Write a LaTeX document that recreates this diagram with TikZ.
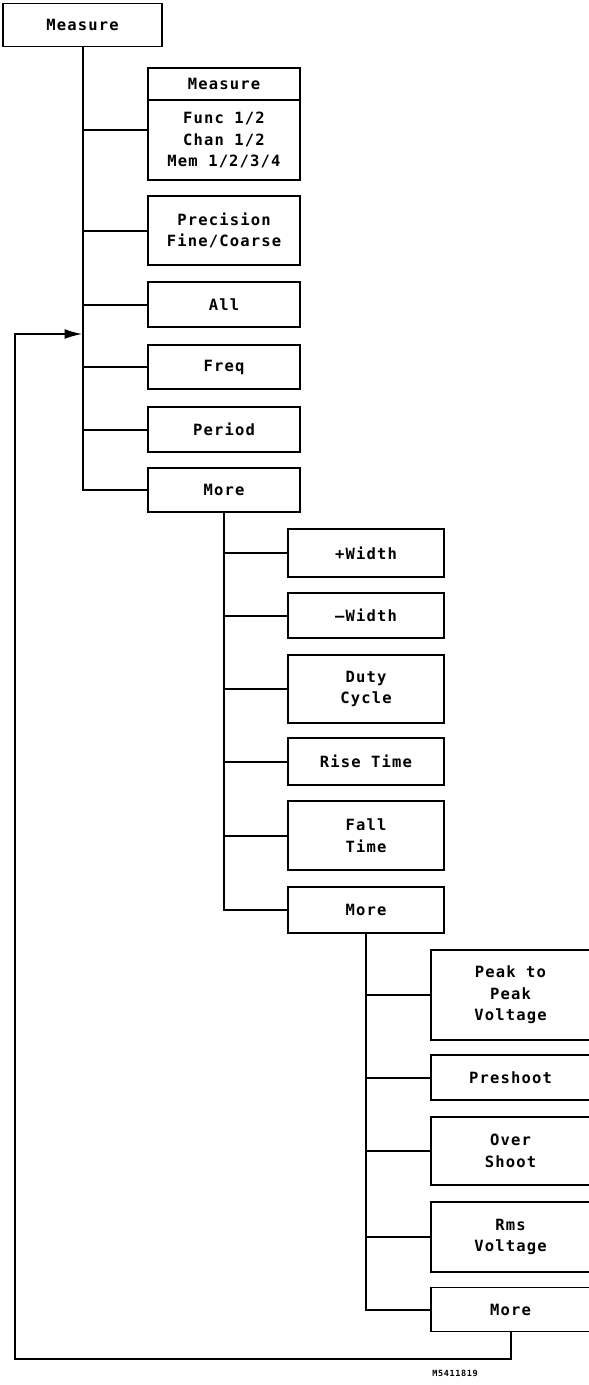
\documentclass[tikz,border=0pt]{standalone}
\usepackage{fontspec}
\newfontfamily\plotfont[LetterSpace=7.5]{DejaVu Sans Mono}
\usepackage{tikz}
\usetikzlibrary{arrows.meta, positioning}

\tikzset{
  menubox/.style={draw, line width=1.8pt, fill=white, align=center, inner sep=0pt,
    font=\plotfont\bfseries\fontsize{15.5}{21.5}\selectfont},
  link/.style={line width=2pt},
}

\begin{document}
\begin{tikzpicture}[x=1pt, y=-1pt]
    \useasboundingbox (0,0) rectangle (589,1385);

    % Top menu key
    \node[menubox, minimum width=159, minimum height=43] (top) at (82.5,25) {Measure};

    % First softkey level
    \node[menubox, minimum width=152, minimum height=32] (meashead) at (224,84) {Measure};
    \node[menubox, minimum width=152, minimum height=80] (measbody) at (224,140) {Func 1/2\\Chan 1/2\\Mem 1/2/3/4};
    \node[menubox, minimum width=152, minimum height=69] (prec) at (224,230.5) {Precision\\Fine/Coarse};
    \node[menubox, minimum width=152, minimum height=45] (all) at (224,304.5) {All};
    \node[menubox, minimum width=152, minimum height=44] (freq) at (224,367) {Freq};
    \node[menubox, minimum width=152, minimum height=45] (period) at (224,429.5) {Period};
    \node[menubox, minimum width=152, minimum height=44] (more1) at (224,490) {More};

    \draw[link] (top.south) |- (more1.west);
    \draw[link] (top.south |- 0,130) -- ([yshift=10pt]measbody.west);
    \draw[link] (top.south |- prec.west) -- (prec.west);
    \draw[link] (top.south |- all.west) -- (all.west);
    \draw[link] (top.south |- freq.west) -- (freq.west);
    \draw[link] (top.south |- period.west) -- (period.west);

    % Second softkey level
    \node[menubox, minimum width=156, minimum height=48] (pwidth) at (366,553) {+Width};
    \node[menubox, minimum width=156, minimum height=45] (nwidth) at (366,615.5) {–Width};
    \node[menubox, minimum width=156, minimum height=68] (duty) at (366,689) {Duty\\Cycle};
    \node[menubox, minimum width=156, minimum height=47] (rise) at (366,761.5) {Rise Time};
    \node[menubox, minimum width=156, minimum height=69] (fall) at (366,835.5) {Fall\\Time};
    \node[menubox, minimum width=156, minimum height=46] (more2) at (366,910) {More};

    \draw[link] (more1.south) |- (more2.west);
    \draw[link] (more1.south |- pwidth.west) -- (pwidth.west);
    \draw[link] (more1.south |- nwidth.west) -- (nwidth.west);
    \draw[link] (more1.south |- duty.west) -- (duty.west);
    \draw[link] (more1.south |- rise.west) -- (rise.west);
    \draw[link] (more1.south |- fall.west) -- (fall.west);

    % Third softkey level
    \node[menubox, minimum width=159, minimum height=90] (peak) at (510.5,995) {Peak to\\Peak\\Voltage};
    \node[menubox, minimum width=159, minimum height=45] (pre) at (510.5,1077.5) {Preshoot};
    \node[menubox, minimum width=159, minimum height=68] (over) at (510.5,1151) {Over\\Shoot};
    \node[menubox, minimum width=159, minimum height=70] (rms) at (510.5,1237) {Rms\\Voltage};
    \node[menubox, minimum width=159, minimum height=44] (more3) at (510.5,1309.5) {More};

    \draw[link] (more2.south) |- (more3.west);
    \draw[link] (more2.south |- peak.west) -- (peak.west);
    \draw[link] (more2.south |- pre.west) -- (pre.west);
    \draw[link] (more2.south |- over.west) -- (over.west);
    \draw[link] (more2.south |- rms.west) -- (rms.west);

    % Return to first level
    \coordinate (retleft) at (15,1359);
    \coordinate (loopin) at (82.5,334);
    \draw[link, -{Latex[length=18pt, width=10pt]}] (more3.south) |- (retleft) |- (loopin);

    % Figure id
    \node[font=\plotfont\bfseries\fontsize{8.5}{9}\selectfont] (figid) at (455,1373) {M5411819};
\end{tikzpicture}
\end{document}
